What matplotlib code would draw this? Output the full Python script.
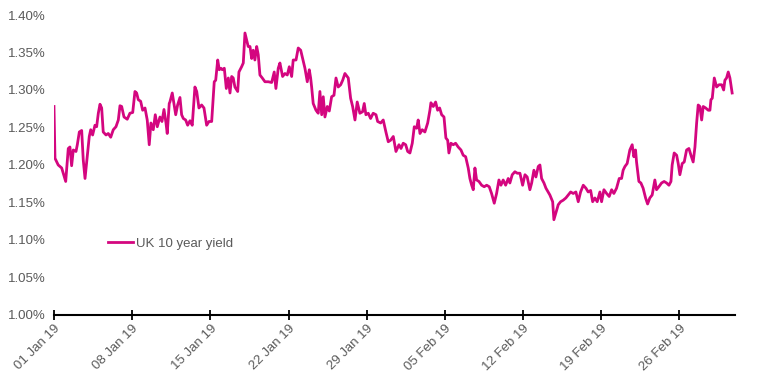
import matplotlib
matplotlib.use('Agg')
import matplotlib.pyplot as plt
import matplotlib.dates as mdates
import pandas as pd
import numpy as np

plt.rcParams['font.family'] = ['Liberation Sans', 'DejaVu Sans']

# 기준일(2019-01-01)부터 경과 일수, 수익률(%)
days = [0.0, 0.09, 0.38, 0.69, 0.83, 1.05, 1.28, 1.43, 1.58, 1.73, 1.97, 2.09, 2.27, 2.48, 2.62, 2.78,
        2.98, 3.16, 3.29, 3.46, 3.67, 3.82, 3.97, 4.12, 4.27, 4.41, 4.66, 4.86, 5.08, 5.31, 5.55, 5.76,
        5.91, 6.06, 6.27, 6.56, 6.80, 7.05, 7.25, 7.40, 7.55, 7.76, 7.94, 8.15, 8.35, 8.53, 8.68, 8.89,
        9.07, 9.25, 9.49, 9.67, 9.85, 10.03, 10.14, 10.32, 10.38, 10.59, 10.90, 11.07, 11.28, 11.43, 11.58,
        11.79, 11.97, 12.18, 12.38, 12.62, 12.78, 12.98, 13.22, 13.43, 13.67, 13.88, 14.12, 14.35, 14.48,
        14.66, 14.80, 14.95, 15.07, 15.25, 15.43, 15.61, 15.76, 15.91, 16.05, 16.20, 16.45, 16.56, 16.80,
        16.95, 17.10, 17.25, 17.39, 17.55, 17.70, 17.84, 17.99, 18.15, 18.29, 18.44, 18.65, 18.89, 19.19,
        19.49, 19.72, 19.87, 20.08, 20.23, 20.47, 20.68, 20.89, 21.07, 21.28, 21.42, 21.67, 21.87, 22.09,
        22.26, 22.47, 22.68, 22.86, 22.98, 23.07, 23.21, 23.46, 23.66, 23.81, 23.97, 24.11, 24.26, 24.47,
        24.65, 24.86, 25.07, 25.25, 25.45, 25.67, 25.85, 26.05, 26.35, 26.56, 26.74, 26.95, 27.15, 27.39,
        27.63, 27.78, 27.93, 28.14, 28.35, 28.58, 28.83, 28.98, 29.25, 29.48, 29.72, 29.93, 30.14, 30.38,
        30.62, 30.89, 31.07, 31.27, 31.49, 31.67, 31.87, 32.08, 32.26, 32.47, 32.61, 32.77, 32.97, 33.21,
        33.46, 33.66, 33.75, 33.96, 34.17, 34.35, 34.53, 34.71, 34.92, 35.09, 35.25, 35.36, 35.54, 35.75,
        35.96, 36.19, 36.44, 36.64, 36.86, 37.09, 37.24, 37.40, 37.54, 37.69, 37.84, 38.05, 38.29, 38.52,
        38.74, 38.97, 39.18, 39.42, 39.63, 39.84, 40.02, 40.22, 40.44, 40.67, 40.82, 41.03, 41.27, 41.48,
        41.72, 41.96, 42.17, 42.37, 42.61, 42.77, 42.97, 43.15, 43.36, 43.51, 43.66, 43.87, 44.05, 44.25,
        44.40, 44.65, 44.76, 44.94, 45.15, 45.36, 45.59, 45.83, 46.04, 46.26, 46.49, 46.73, 46.94, 47.15,
        47.39, 47.63, 47.83, 48.05, 48.23, 48.43, 48.64, 48.88, 49.03, 49.24, 49.48, 49.71, 49.93, 50.13,
        50.37, 50.61, 50.82, 50.96, 51.12, 51.32, 51.56, 51.77, 51.92, 52.07, 52.16, 52.37, 52.55, 52.75,
        52.97, 53.15, 53.35, 53.56, 53.80, 53.95, 54.16, 54.40, 54.63, 54.85, 55.06, 55.24, 55.35, 55.53,
        55.75, 55.89, 56.04, 56.25, 56.43, 56.64, 56.85, 57.03, 57.23, 57.39, 57.54, 57.68, 57.83, 57.99,
        58.13, 58.35, 58.58, 58.73, 58.82, 58.94, 59.12, 59.33, 59.54, 59.78, 59.96, 60.07, 60.22, 60.37,
        60.52, 60.72]

yields = [1.278, 1.209, 1.200, 1.196, 1.189, 1.178, 1.222, 1.224, 1.199, 1.220, 1.218, 1.227, 1.244, 1.246, 1.207, 1.182,
          1.211, 1.238, 1.247, 1.240, 1.253, 1.251, 1.269, 1.281, 1.276, 1.244, 1.240, 1.242, 1.237, 1.247, 1.251, 1.260,
          1.279, 1.278, 1.264, 1.261, 1.269, 1.270, 1.298, 1.296, 1.287, 1.285, 1.273, 1.276, 1.260, 1.227, 1.256, 1.247,
          1.267, 1.251, 1.264, 1.258, 1.274, 1.256, 1.242, 1.282, 1.284, 1.296, 1.267, 1.280, 1.290, 1.267, 1.262,
          1.260, 1.253, 1.259, 1.253, 1.304, 1.298, 1.276, 1.280, 1.276, 1.253, 1.258, 1.258, 1.311, 1.313,
          1.340, 1.327, 1.329, 1.327, 1.329, 1.302, 1.316, 1.296, 1.318, 1.316, 1.304, 1.298, 1.324, 1.331,
          1.336, 1.376, 1.367, 1.358, 1.358, 1.342, 1.353, 1.340, 1.358, 1.347, 1.320, 1.316, 1.311, 1.311,
          1.310, 1.324, 1.302, 1.329, 1.336, 1.318, 1.322, 1.320, 1.331, 1.318, 1.340, 1.340, 1.356, 1.353,
          1.342, 1.329, 1.311, 1.327, 1.316, 1.304, 1.282, 1.273, 1.269, 1.298, 1.267, 1.291, 1.264, 1.278,
          1.272, 1.291, 1.293, 1.316, 1.304, 1.307, 1.313, 1.322, 1.316, 1.289, 1.278, 1.260, 1.284, 1.269,
          1.271, 1.282, 1.267, 1.269, 1.262, 1.269, 1.267, 1.258, 1.256, 1.260, 1.244, 1.231, 1.233, 1.238,
          1.218, 1.227, 1.222, 1.229, 1.227, 1.218, 1.216, 1.229, 1.251, 1.249, 1.260, 1.242, 1.247, 1.244,
          1.256, 1.273, 1.283, 1.278, 1.284, 1.273, 1.276, 1.267, 1.264, 1.236, 1.233, 1.216, 1.229, 1.227,
          1.229, 1.224, 1.220, 1.213, 1.211, 1.196, 1.182, 1.173, 1.167, 1.196, 1.180, 1.178, 1.173, 1.171,
          1.173, 1.171, 1.162, 1.149, 1.162, 1.180, 1.173, 1.180, 1.173, 1.182, 1.176, 1.187, 1.191, 1.189,
          1.189, 1.173, 1.187, 1.184, 1.167, 1.176, 1.193, 1.184, 1.198, 1.200, 1.182, 1.176, 1.169, 1.164,
          1.160, 1.151, 1.127, 1.136, 1.147, 1.151, 1.153, 1.156, 1.160, 1.164, 1.162, 1.164, 1.151, 1.164,
          1.173, 1.169, 1.164, 1.166, 1.151, 1.156, 1.151, 1.164, 1.151, 1.167, 1.162, 1.158, 1.167, 1.162,
          1.169, 1.182, 1.182, 1.193, 1.198, 1.202, 1.220, 1.227, 1.211, 1.220, 1.204, 1.178, 1.176, 1.169,
          1.156, 1.148, 1.156, 1.160, 1.180, 1.167, 1.171, 1.176, 1.178, 1.176, 1.173, 1.178, 1.200, 1.216,
          1.213, 1.202, 1.187, 1.202, 1.204, 1.220, 1.222, 1.213, 1.204, 1.224, 1.256, 1.280, 1.278, 1.260,
          1.278, 1.276, 1.273, 1.273, 1.287, 1.289, 1.316, 1.304, 1.307, 1.307, 1.300, 1.313, 1.316, 1.324,
          1.316, 1.296]

start = pd.Timestamp('2019-01-01')
dates = start + pd.to_timedelta(days, unit='D')

line_color = '#d4067f'
text_color = '#5a5a5a'

fig = plt.figure(figsize=(7.57, 3.79), dpi=100)
ax = fig.add_axes([0.0713, 0.169, 0.9, 0.7914])

ax.plot(dates, yields, color=line_color, linewidth=2.0, label='UK 10 year yield')

ax.set_ylim(1.00, 1.40)
ax.set_yticks(np.arange(1.00, 1.401, 0.05))
ax.set_yticklabels(['{:.2f}%'.format(v) for v in np.arange(1.00, 1.401, 0.05)])
ax.set_xlim(start, start + pd.Timedelta(days=61))

# 주 단위 눈금
ax.set_xticks(pd.date_range(start, periods=9, freq='7D'))
ax.xaxis.set_major_formatter(mdates.DateFormatter('%d %b %y'))

for s in ['top', 'right', 'left']:
    ax.spines[s].set_visible(False)
ax.spines['bottom'].set_linewidth(1.5)
ax.spines['bottom'].set_color('black')

ax.tick_params(axis='y', length=0, labelsize=9.5, labelcolor=text_color, pad=6)
ax.tick_params(axis='x', direction='inout', length=7, width=1.3, labelsize=9.5,
               labelcolor=text_color, pad=2)
plt.setp(ax.get_xticklabels(), rotation=45, ha='right', rotation_mode='anchor')

ax.legend(loc='lower left', bbox_to_anchor=(0.062, 0.177), frameon=False, fontsize=9.5,
          handlelength=1.9, handletextpad=0.2, labelcolor=text_color)

plt.savefig('out.png', dpi=100)
